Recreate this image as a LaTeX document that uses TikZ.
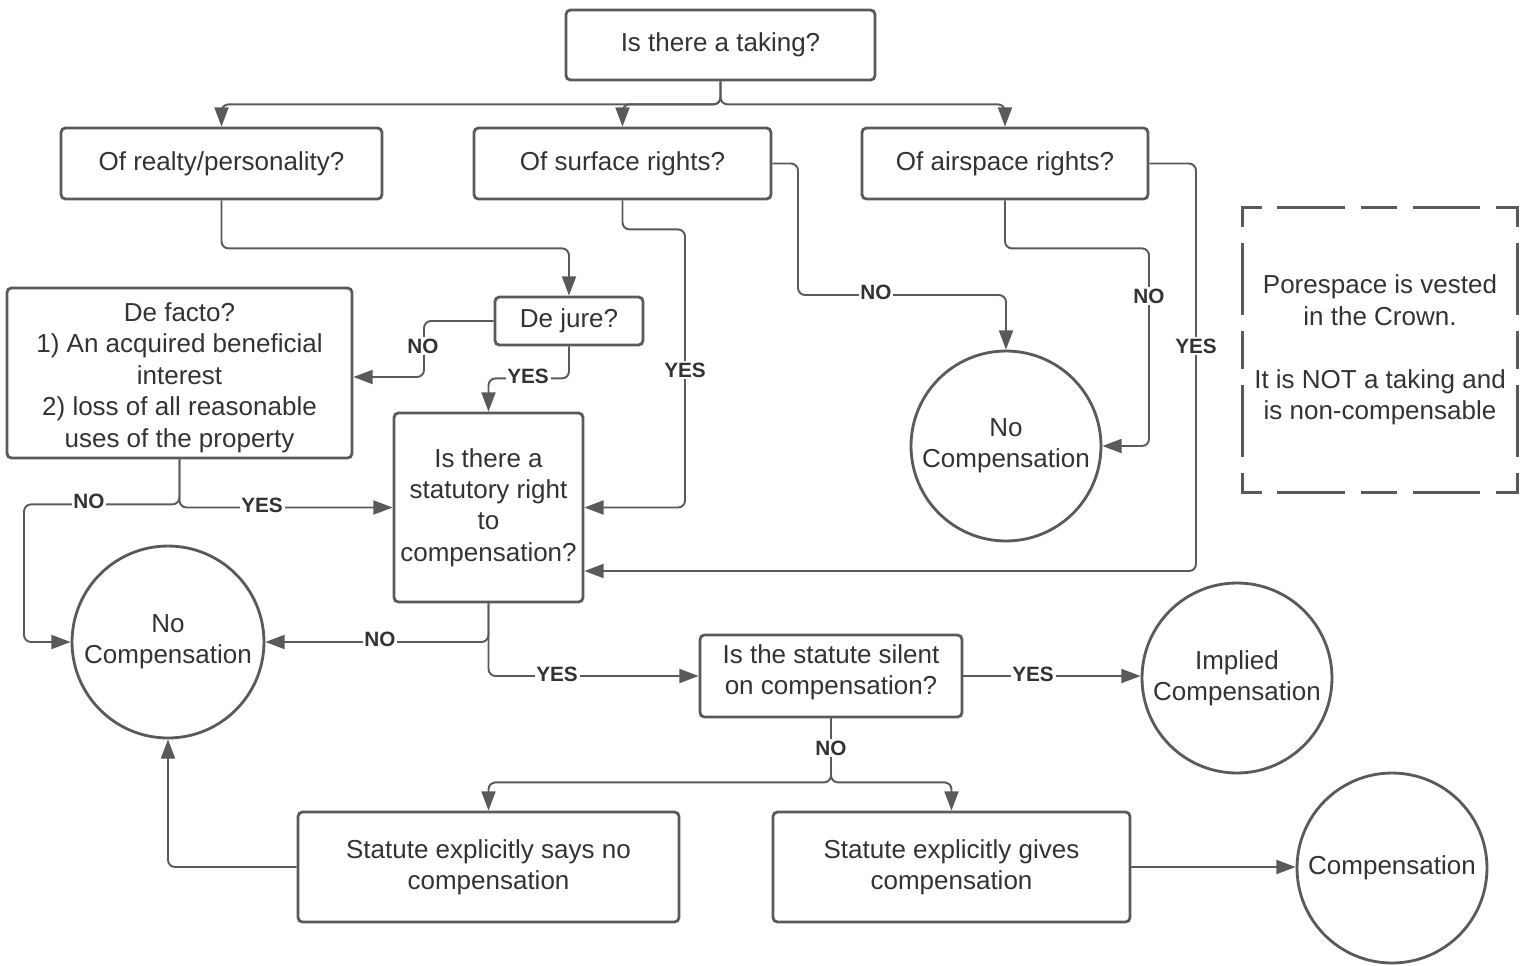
\documentclass[tikz,border=0pt]{standalone}
\usepackage{fontspec}
\setmainfont{Liberation Sans}
\usetikzlibrary{arrows.meta,calc}
\definecolor{edge}{HTML}{5A5A5A}
\definecolor{ink}{HTML}{333333}
\newcommand{\shiftedlines}[2]{\raisebox{#1}[\height][\depth]{\begin{tabular}{@{}c@{}}#2\end{tabular}}}
\begin{document}
\begin{tikzpicture}[x=0.02cm,y=-0.02cm,
  txt/.style={text=ink,font=\fontsize{14.8}{17.9}\selectfont,align=center,inner sep=0pt},
  box/.style={txt,draw=edge,line width=1.6pt,rounded corners=2.5pt,fill=white},
  endc/.style={txt,circle,draw=edge,line width=1.6pt,fill=white},
  link/.style={draw=edge,line width=1.1pt,rounded corners=4pt},
  arr/.style={link,-{Triangle[length=11pt,width=8pt]}},
  lbl/.style={fill=white,text=ink,font=\bfseries\fontsize{11.8}{13}\selectfont,inner sep=1pt},
  dashH/.style={draw=edge,line width=1.6pt,line cap=rect,
    dash pattern=on 10pt off 10.5pt on 37pt off 10.5pt on 19pt off 10.5pt on 37pt off 10.5pt on 10pt off 200pt},
  dashV/.style={draw=edge,line width=1.6pt,line cap=rect,
    dash pattern=on 10pt off 11pt on 39pt off 11pt on 20pt off 11pt on 39pt off 11pt on 10pt off 200pt}]
\useasboundingbox (0,0) rectangle (1526,965);

% question boxes
\node[box,minimum width=6.18cm,minimum height=1.40cm] (taking) at (720.5,45) {Is there a taking?};
\node[box,minimum width=6.42cm,minimum height=1.42cm] (realty) at (221.5,163.5) {Of realty/personality?};
\node[box,minimum width=5.94cm,minimum height=1.42cm] (surface) at (622.5,163.5) {Of surface rights?};
\node[box,minimum width=5.72cm,minimum height=1.42cm] (airspace) at (1005,163.5) {Of airspace rights?};
\node[box,minimum width=6.90cm,minimum height=3.40cm] (defacto) at (179.5,373)
  {\shiftedlines{-2.8pt}{De facto?\\1) An acquired beneficial\\interest\\2) loss of all reasonable\\uses of the property}};
\node[box,minimum width=2.96cm,minimum height=0.96cm] (dejure) at (569,321) {De jure?};
\node[box,minimum width=3.78cm,minimum height=3.78cm] (statutory) at (488.5,507.5)
  {Is there a\\statutory right\\to\\compensation?};
\node[box,minimum width=5.24cm,minimum height=1.64cm] (silent) at (831,676)
  {\shiftedlines{2pt}{Is the statute silent\\on compensation?}};
\node[box,minimum width=7.62cm,minimum height=2.20cm] (saysno) at (488.5,867)
  {Statute explicitly says no\\compensation};
\node[box,minimum width=7.14cm,minimum height=2.20cm] (gives) at (951.5,867)
  {Statute explicitly gives\\compensation};

% outcomes
\node[endc,minimum size=3.80cm] (nc1) at (1006,446) {No\\Compensation};
\node[endc,minimum size=3.84cm] (nc2) at (168,642) {No\\Compensation};
\node[endc,minimum size=3.80cm] (implied) at (1237,678) {Implied\\Compensation};
\node[endc,minimum size=3.80cm] (comp) at (1392,868) {Compensation};

% note on pore space
\node[txt,minimum width=5.48cm,minimum height=5.68cm] (pore) at (1380,350)
  {Porespace is vested\\in the Crown.\\[17.9pt]It is NOT a taking and\\is non-compensable};
\draw[dashH] (pore.north west) -- (pore.north east);
\draw[dashH] (pore.south west) -- (pore.south east);
\draw[dashV] (pore.north west) -- (pore.south west);
\draw[dashV] (pore.north east) -- (pore.south east);

% connectors
\draw[arr] (taking.south) -- ++(0,23) -| (realty.north);
\draw[arr] (taking.south) -- ++(0,23) -| (surface.north);
\draw[arr] (taking.south) -- ++(0,23) -| (airspace.north);
\draw[arr] (realty.south) -- ++(0,48) -| (dejure.north);
\draw[arr] (dejure.west) -- (424,321) -- (424,377) -- (defacto.east |- 0,377);
\draw[arr] (dejure.south) -- ++(0,32) -| (statutory.north);
\draw[arr] (surface.south) -- ++(0,29) -| (685,507.5) -- (statutory.east);
\draw[arr] (surface.east) -- (798,163.5) -- (798,295) -| (nc1.north);
\draw[arr] (airspace.south) -- ++(0,48) -| (1149,446) -- (nc1.east);
\draw[arr] (airspace.east) -- (1196,163.5) -- (1196,571) -- (statutory.east |- 0,571);
\draw[arr] (defacto.south) |- (statutory.west);
\draw[arr] (defacto.south) -- ++(0,45) -| (24,642) -- (nc2.west);
\draw[arr] (statutory.south) |- (nc2.east);
\draw[arr] (statutory.south) |- (silent.west);
\draw[arr] (silent.east) -- (silent.east -| implied.west);
\draw[arr] (silent.south) -- ++(0,64) -| (saysno.north);
\draw[arr] (silent.south) -- ++(0,64) -| (gives.north);
\draw[arr] (saysno.west) -| (nc2.south);
\draw[arr] (gives.east) -- (gives.east -| comp.west);

% connector labels
\node[lbl] (l1) at (423,346) {NO};
\node[lbl] (l2) at (528,376) {YES};
\node[lbl] (l3) at (685,370) {YES};
\node[lbl] (l4) at (876,292) {NO};
\node[lbl] (l5) at (1149,296) {NO};
\node[lbl] (l6) at (1196,346) {YES};
\node[lbl] (l7) at (89,501) {NO};
\node[lbl] (l8) at (262,505) {YES};
\node[lbl] (l9) at (380,639) {NO};
\node[lbl] (l10) at (557,674) {YES};
\node[lbl] (l11) at (1033,674) {YES};
\node[lbl] (l12) at (831,748) {NO};
\end{tikzpicture}
\end{document}
